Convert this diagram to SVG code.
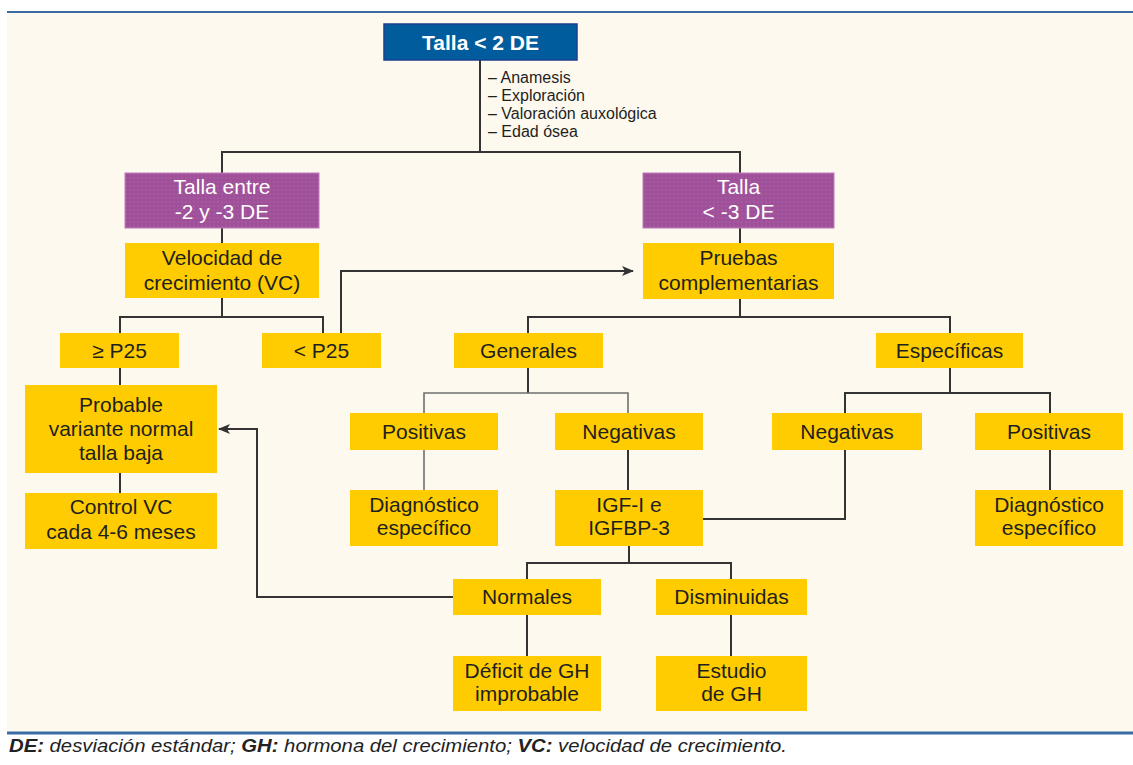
<svg xmlns="http://www.w3.org/2000/svg" width="1133" height="765" viewBox="0 0 1133 765">
<defs>
<style>
.y{fill:#FECC00}
.t{font-family:"Liberation Sans",Arial,sans-serif;font-size:21px;fill:#1f1f1f;text-anchor:middle}
.w{font-family:"Liberation Sans",Arial,sans-serif;font-size:21px;fill:#ffffff;text-anchor:middle}
.b{font-family:"Liberation Sans",Arial,sans-serif;font-size:16px;fill:#1f1f1f}
.c{stroke:#333333;stroke-width:2;fill:none}
.g{stroke:#6f6f6f;stroke-width:1.6;fill:none}
</style>
<pattern id="dots" width="4" height="4" patternUnits="userSpaceOnUse">
<rect width="4" height="4" fill="#9e5099"/>
<circle cx="2" cy="2" r="0.8" fill="#b463aa"/>
</pattern>
<marker id="arr" markerWidth="12" markerHeight="10" refX="11" refY="5" orient="auto" markerUnits="userSpaceOnUse">
<path d="M0,0 L12,5 L0,10 L3,5 Z" fill="#333333"/>
</marker>
</defs>
<rect width="1133" height="765" fill="#ffffff"/>
<rect x="7" y="13" width="1126" height="719" fill="#fdf9ee"/>
<line x1="7" y1="12" x2="1133" y2="12" stroke="#3c6aa0" stroke-width="2"/>
<line x1="7" y1="733" x2="1133" y2="733" stroke="#3b6ca8" stroke-width="3"/>

<g id="connectors">
<path class="c" d="M480,60 V152"/>
<path class="c" d="M222,173 V152 H740 V173"/>
<path class="c" d="M222,228 V243"/>
<path class="c" d="M740,228 V243"/>
<path class="c" d="M222,298 V317"/>
<path class="c" d="M120,333 V317 H323 V333"/>
<path class="c" d="M341,333 V271 H633" marker-end="url(#arr)"/>
<path class="c" d="M740,299 V317"/>
<path class="c" d="M528,333 V317 H950 V333"/>
<path class="c" d="M528,368 V393"/>
<path class="g" d="M424,413 V393 H628 V413"/>
<path class="c" d="M950,368 V393"/>
<path class="c" d="M845,413 V393 H1050 V413"/>
<path class="g" d="M424,450 V490"/>
<path class="c" d="M628,450 V490"/>
<path class="c" d="M1050,450 V490"/>
<path class="c" d="M845,450 V519 H703"/>
<path class="c" d="M629,546 V563"/>
<path class="c" d="M527,579 V563 H731 V579"/>
<path class="c" d="M453,597 H257 V429 H219" marker-end="url(#arr)"/>
<path class="c" d="M527,615 V656"/>
<path class="c" d="M731,615 V656"/>
<path class="c" d="M120,368 V385"/>
<path class="c" d="M120,473 V493"/>
</g>

<g id="n1">
<rect x="384" y="24" width="193" height="36" fill="#005c9c" stroke="#1b3f8f" stroke-width="1.5"/>
<text class="w" x="480.5" y="50" font-weight="bold" font-size="22">Talla &lt; 2 DE</text>
</g>
<g id="n1-notes">
<text class="b" x="488" y="83">– Anamesis</text>
<text class="b" x="488" y="101">– Exploración</text>
<text class="b" x="488" y="119">– Valoración auxológica</text>
<text class="b" x="488" y="137">– Edad ósea</text>
</g>
<g id="n2">
<rect x="125" y="173" width="194" height="55" fill="url(#dots)" stroke="#c07ab8" stroke-width="1"/>
<text class="w" x="222" y="194">Talla entre</text>
<text class="w" x="222" y="219">-2 y -3 DE</text>
</g>
<g id="n3">
<rect x="643" y="173" width="191" height="55" fill="url(#dots)" stroke="#c07ab8" stroke-width="1"/>
<text class="w" x="738.5" y="194">Talla</text>
<text class="w" x="738.5" y="219">&lt; -3 DE</text>
</g>
<g id="n4">
<rect class="y" x="125" y="243" width="194" height="55"/>
<text class="t" x="222" y="265">Velocidad de</text>
<text class="t" x="222" y="290">crecimiento (VC)</text>
</g>
<g id="n5">
<rect class="y" x="643" y="243" width="191" height="56"/>
<text class="t" x="738.5" y="265">Pruebas</text>
<text class="t" x="738.5" y="290">complementarias</text>
</g>
<g id="n6">
<rect class="y" x="60" y="333" width="119" height="35"/>
<text class="t" x="119.5" y="358">≥ P25</text>
</g>
<g id="n7">
<rect class="y" x="262" y="333" width="119" height="35"/>
<text class="t" x="321.5" y="358">&lt; P25</text>
</g>
<g id="n8">
<rect class="y" x="454" y="333" width="149" height="35"/>
<text class="t" x="528.5" y="358">Generales</text>
</g>
<g id="n9">
<rect class="y" x="876" y="333" width="147" height="35"/>
<text class="t" x="949.5" y="358">Específicas</text>
</g>
<g id="n10">
<rect class="y" x="350" y="413" width="148" height="37"/>
<text class="t" x="424" y="439">Positivas</text>
</g>
<g id="n11">
<rect class="y" x="555" y="413" width="148" height="37"/>
<text class="t" x="629" y="439">Negativas</text>
</g>
<g id="n12">
<rect class="y" x="772" y="413" width="150" height="37"/>
<text class="t" x="847" y="439">Negativas</text>
</g>
<g id="n13">
<rect class="y" x="975" y="413" width="148" height="37"/>
<text class="t" x="1049" y="439">Positivas</text>
</g>
<g id="n14">
<rect class="y" x="350" y="490" width="148" height="56"/>
<text class="t" x="424" y="512">Diagnóstico</text>
<text class="t" x="424" y="535">específico</text>
</g>
<g id="n15">
<rect class="y" x="555" y="490" width="148" height="56"/>
<text class="t" x="629" y="512">IGF-I e</text>
<text class="t" x="629" y="535">IGFBP-3</text>
</g>
<g id="n16">
<rect class="y" x="975" y="490" width="148" height="56"/>
<text class="t" x="1049" y="512">Diagnóstico</text>
<text class="t" x="1049" y="535">específico</text>
</g>
<g id="n17">
<rect class="y" x="453" y="579" width="148" height="36"/>
<text class="t" x="527" y="604">Normales</text>
</g>
<g id="n18">
<rect class="y" x="656" y="579" width="151" height="36"/>
<text class="t" x="731.5" y="604">Disminuidas</text>
</g>
<g id="n19">
<rect class="y" x="453" y="656" width="148" height="55"/>
<text class="t" x="527" y="678">Déficit de GH</text>
<text class="t" x="527" y="701">improbable</text>
</g>
<g id="n20">
<rect class="y" x="656" y="656" width="151" height="55"/>
<text class="t" x="731.5" y="678">Estudio</text>
<text class="t" x="731.5" y="701">de GH</text>
</g>
<g id="n21">
<rect class="y" x="25" y="385" width="192" height="88"/>
<text class="t" x="121" y="412">Probable</text>
<text class="t" x="121" y="436">variante normal</text>
<text class="t" x="121" y="460">talla baja</text>
</g>
<g id="n22">
<rect class="y" x="25" y="493" width="192" height="56"/>
<text class="t" x="121" y="514">Control VC</text>
<text class="t" x="121" y="539">cada 4-6 meses</text>
</g>

<text x="9" y="752" font-family="'Liberation Sans',Arial,sans-serif" font-size="19" font-style="italic" fill="#222222" textLength="778" lengthAdjust="spacingAndGlyphs"><tspan font-weight="bold">DE:</tspan> desviación estándar; <tspan font-weight="bold">GH:</tspan> hormona del crecimiento; <tspan font-weight="bold">VC:</tspan> velocidad de crecimiento.</text>
</svg>
